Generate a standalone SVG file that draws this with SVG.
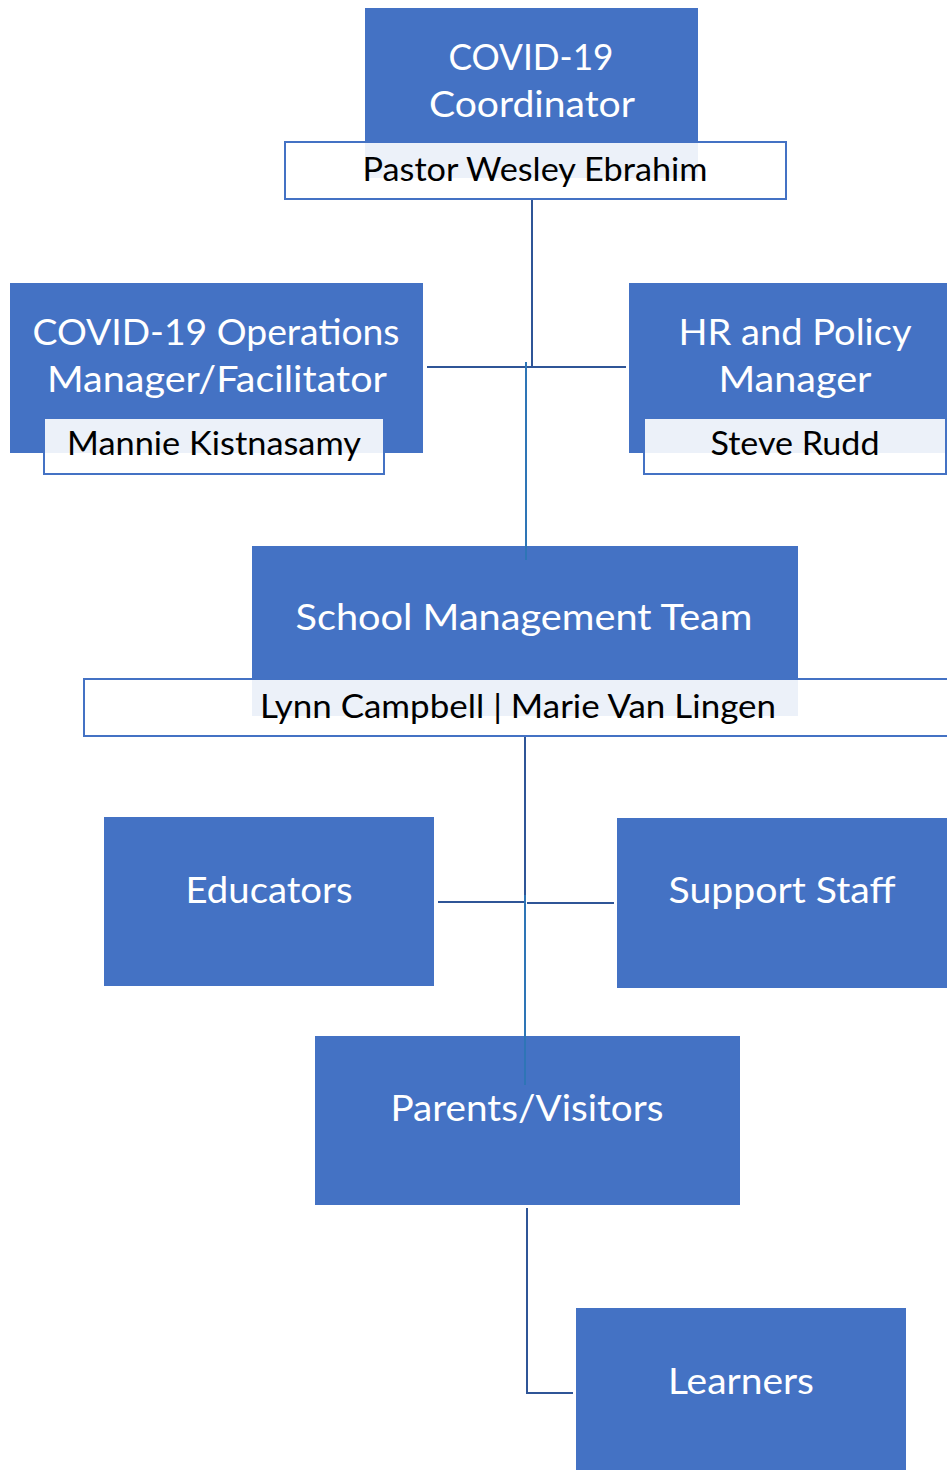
<svg xmlns="http://www.w3.org/2000/svg" width="947" height="1470" viewBox="0 0 947 1470">
<style>
.box{fill:#4472C4}
.lbl{fill:#FFFFFF;fill-opacity:0.9;stroke:#4472C4;stroke-width:2}
.t{font-family:Lato,"Liberation Sans",sans-serif;font-size:37.5px;fill:#FFFFFF;text-anchor:middle}
.n{font-family:Lato,"Liberation Sans",sans-serif;font-size:33px;fill:#000000;text-anchor:middle}
.c{fill:none;stroke:#2F5597;stroke-width:2}
.c2{fill:none;stroke:#2E75B6;stroke-width:2}
</style>
<rect width="947" height="1470" fill="#FFFFFF"/>
<g id="coordinator">
<rect class="box" x="365" y="8" width="333" height="170"/>
<rect class="lbl" x="285" y="142" width="501" height="57"/>
<text class="t" x="531" y="70" textLength="165" lengthAdjust="spacingAndGlyphs">COVID-19</text>
<text class="t" x="532" y="117" textLength="206" lengthAdjust="spacingAndGlyphs">Coordinator</text>
<text class="n" x="535" y="181" textLength="345" lengthAdjust="spacingAndGlyphs">Pastor Wesley Ebrahim</text>
</g>
<g id="operations">
<rect class="box" x="10" y="283" width="413" height="170"/>
<rect class="lbl" x="44" y="418" width="340" height="56"/>
<text class="t" x="216" y="345" textLength="367" lengthAdjust="spacingAndGlyphs">COVID-19 Operations</text>
<text class="t" x="217" y="392" textLength="340" lengthAdjust="spacingAndGlyphs">Manager/Facilitator</text>
<text class="n" x="214" y="455" textLength="294" lengthAdjust="spacingAndGlyphs">Mannie Kistnasamy</text>
</g>
<g id="hr">
<rect class="box" x="629" y="283" width="320" height="170"/>
<rect class="lbl" x="644" y="418" width="302" height="56"/>
<text class="t" x="795" y="345" textLength="233" lengthAdjust="spacingAndGlyphs">HR and Policy</text>
<text class="t" x="795" y="392" textLength="153" lengthAdjust="spacingAndGlyphs">Manager</text>
<text class="n" x="795" y="455" textLength="169" lengthAdjust="spacingAndGlyphs">Steve Rudd</text>
</g>
<g id="smt">
<rect class="box" x="252" y="546" width="546" height="170"/>
<rect class="lbl" x="84" y="679" width="880" height="57"/>
<text class="t" x="524" y="630" textLength="457" lengthAdjust="spacingAndGlyphs">School Management Team</text>
<text class="n" x="518" y="718" textLength="516" lengthAdjust="spacingAndGlyphs">Lynn Campbell | Marie Van Lingen</text>
</g>
<g id="educators">
<rect class="box" x="104" y="817" width="330" height="169"/>
<text class="t" x="269" y="903" textLength="167" lengthAdjust="spacingAndGlyphs">Educators</text>
</g>
<g id="support">
<rect class="box" x="617" y="818" width="332" height="170"/>
<text class="t" x="782" y="903" textLength="227" lengthAdjust="spacingAndGlyphs">Support Staff</text>
</g>
<g id="parents">
<rect class="box" x="315" y="1036" width="425" height="169"/>
<text class="t" x="527" y="1121" textLength="273" lengthAdjust="spacingAndGlyphs">Parents/Visitors</text>
</g>
<g id="learners">
<rect class="box" x="576" y="1308" width="330" height="164"/>
<text class="t" x="741" y="1394" textLength="146" lengthAdjust="spacingAndGlyphs">Learners</text>
</g>
<g id="connectors">
<path class="c" d="M532 200 V367"/>
<path class="c" d="M427 367 H626"/>
<path class="c2" d="M526 362 V560"/>
<path class="c" d="M525 737 V895"/>
<path class="c2" d="M525 895 V1085"/>
<path class="c" d="M438 902 H524"/>
<path class="c" d="M527 903 H614"/>
<path class="c" d="M527 1208 V1393 H573"/>
</g>
</svg>
